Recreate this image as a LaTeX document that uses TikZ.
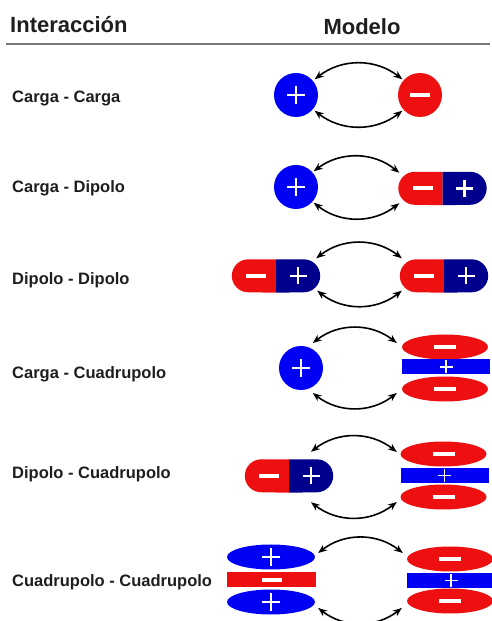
\documentclass[tikz,border=0pt]{standalone}
\usepackage{fontspec}
\setmainfont{Liberation Sans}
\usetikzlibrary{arrows.meta,shapes.geometric}
\definecolor{cblue}{RGB}{0,0,245}
\definecolor{cred}{RGB}{238,16,16}
\definecolor{cnavy}{RGB}{0,0,140}
\definecolor{txt}{RGB}{30,30,30}
\definecolor{rulegray}{RGB}{120,120,120}
\tikzset{
  head/.style={font=\fontsize{22}{26}\selectfont\bfseries, text=txt, inner sep=0},
  lab/.style={font=\fontsize{16.5}{20}\selectfont\bfseries, text=txt, inner sep=0, anchor=base west},
  charge/.style={circle, inner sep=0, minimum size=44pt},
  poscharge/.style={charge, fill=cblue},
  negcharge/.style={charge, fill=cred},
  dip/.style={inner sep=0, minimum width=88pt, minimum height=33pt},
  lobe/.style={ellipse, inner sep=0, minimum width=86pt, minimum height=25pt},
  bar/.style={rectangle, inner sep=0, minimum width=88pt, minimum height=15pt},
  sgn/.style={white, line width=2.8pt},
  sgnthick/.style={white, line width=4pt},
  sgnthin/.style={white, line width=1.8pt},
  arr/.style={line width=1.6pt, {Stealth[length=9pt,width=7pt]}-{Stealth[length=9pt,width=7pt]}},
}
\newcommand{\sgnplus}[3][sgn]{\draw[#1,shift={#2}] (-#3,0) -- (#3,0) (0,-#3) -- (0,#3);}
\newcommand{\sgnminus}[3][sgnthick]{\draw[#1,shift={#2}] (-#3,0) -- (#3,0);}
\newcommand{\dipole}[3]{%
  \node[dip] (#1) at (#2,#3) {};
  \fill[cred] (#1.north) -- ([xshift=16.5pt]#1.north west) arc[start angle=90,end angle=270,radius=16.5pt] -- (#1.south) -- cycle;
  \fill[cnavy] (#1.north) -- ([xshift=-16.5pt]#1.north east) arc[start angle=90,end angle=-90,radius=16.5pt] -- (#1.south) -- cycle;
  \sgnminus{([xshift=-20pt]#1.center)}{10}
  \sgnplus{([xshift=22pt]#1.center)}{8.5}
}
\begin{document}
\begin{tikzpicture}[x=1pt,y=1pt]
\useasboundingbox (0,0) rectangle (492,621);
\fill[white] (0,0) rectangle (492,621);

% header
\node[head, anchor=base west] (h1) at (10,588) {Interacción};
\node[head, anchor=base] (h2) at (362,586) {Modelo};
\draw[rulegray, line width=2pt] (6,577) -- (490,577);

% labels
\node[lab] (l1) at (12,518) {Carga - Carga};
\node[lab] (l2) at (12,428) {Carga - Dipolo};
\node[lab] (l3) at (12,336) {Dipolo - Dipolo};
\node[lab] (l4) at (12,242) {Carga - Cuadrupolo};
\node[lab] (l5) at (12,142) {Dipolo - Cuadrupolo};
\node[lab] (l6) at (12,34) {Cuadrupolo - Cuadrupolo};

% row 1
\node[poscharge] (p1) at (296,526) {};
\sgnplus{(p1)}{9}
\node[negcharge] (n1) at (420,526) {};
\sgnminus{(n1)}{10}
\draw[arr] ([xshift=3pt]p1.north east) to[bend left=38] ([xshift=-2pt]n1.north west);
\draw[arr] ([xshift=3pt]p1.south east) to[bend right=38] ([xshift=-2pt]n1.south west);

% row 2
\node[poscharge] (p2) at (296,434) {};
\sgnplus{(p2)}{9}
\dipole{d2}{442.5}{432.5}
\draw[arr] ([xshift=2pt]p2.north east) to[bend left=38] ([xshift=1pt,yshift=-1pt]d2.north west);
\draw[arr] ([xshift=2pt]p2.south east) to[bend right=38] ([xshift=1pt,yshift=2pt]d2.south west);

% row 3
\dipole{d3l}{276}{345}
\dipole{d3r}{444}{345}
\draw[arr] ([xshift=-4pt,yshift=1pt]d3l.north east) to[bend left=38] ([xshift=2pt,yshift=1pt]d3r.north west);
\draw[arr] ([xshift=-3pt,yshift=2pt]d3l.south east) to[bend right=38] ([xshift=2pt,yshift=2pt]d3r.south west);

% row 4
\node[poscharge] (p4) at (301,253) {};
\sgnplus{(p4)}{9}
\node[lobe, fill=cred] (q4a) at (445,274) {};
\node[bar, fill=cblue] (q4b) at (446,254) {};
\node[lobe, fill=cred] (q4c) at (445,232) {};
\sgnminus{(q4a)}{11}
\sgnplus[sgnthin]{(q4b)}{6.5}
\sgnminus{(q4c)}{11}
\draw[arr] ([shift={(2,5)}]p4.64) to[bend left=38] ([shift={(-5,4)}]q4a.west);
\draw[arr] ([shift={(2,-5)}]p4.-64) to[bend right=38] ([shift={(-5,-4)}]q4c.west);

% row 5
\dipole{d5}{289}{145}
\node[lobe, fill=cred] (q5a) at (443.5,167) {};
\node[bar, fill=cblue] (q5b) at (444.5,145.5) {};
\node[lobe, fill=cred] (q5c) at (443.5,124) {};
\sgnminus{(q5a)}{11}
\sgnplus[sgnthin]{(q5b)}{6.5}
\sgnminus{(q5c)}{11}
\draw[arr] ([shift={(22,7.5)}]d5.north) to[bend left=38] ([shift={(-3.5,2)}]q5a.west);
\draw[arr] ([shift={(22,-9.5)}]d5.south) to[bend right=38] ([shift={(-3.5,-5)}]q5c.west);

% row 6
\node[lobe, fill=cblue, minimum width=88pt] (q6a) at (271,64) {};
\node[bar, fill=cred, minimum width=89pt] (q6b) at (271.5,41) {};
\node[lobe, fill=cblue, minimum width=88pt] (q6c) at (271,19) {};
\sgnplus[line width=2.8pt, white]{(q6a)}{9}
\sgnminus{(q6b)}{10}
\sgnplus[line width=2.8pt, white]{(q6c)}{9}
\node[lobe, fill=cred] (q6d) at (450,62) {};
\node[bar, fill=cblue] (q6e) at (451,40.5) {};
\node[lobe, fill=cred] (q6f) at (450,20) {};
\sgnminus{(q6d)}{11}
\sgnplus[sgnthin]{(q6e)}{6.5}
\sgnminus{(q6f)}{11}
\draw[arr] ([shift={(3,4)}]q6a.east) to[bend left=38] ([shift={(-4,6)}]q6d.west);
\draw[arr] ([shift={(3,-6)}]q6c.east) to[bend right=38] ([shift={(-5,-7)}]q6f.west);
\end{tikzpicture}
\end{document}
